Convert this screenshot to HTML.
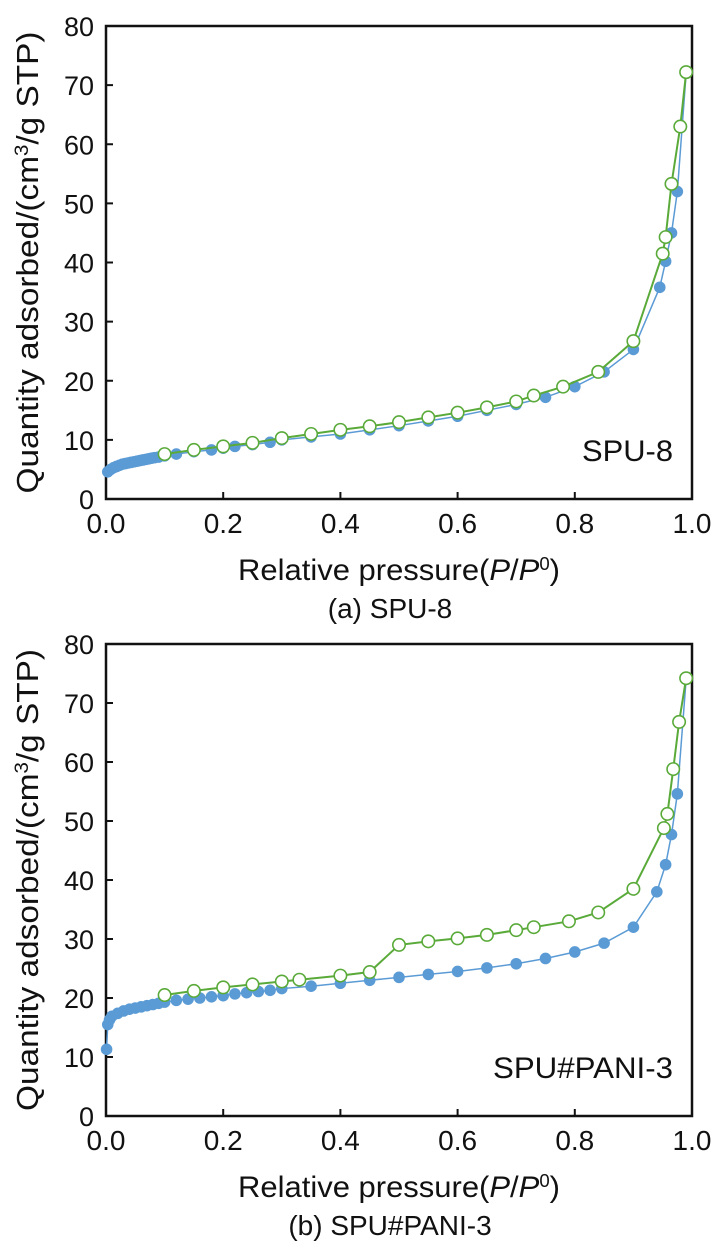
<!DOCTYPE html>
<html><head><meta charset="utf-8"><style>
html,body{margin:0;padding:0;background:#fff;}
svg{display:block;font-family:"Liberation Sans",sans-serif;}
</style></head><body>
<svg id="c" width="726" height="1250" viewBox="0 0 726 1250"></svg>
<script>
const xTicks=[0,0.2,0.4,0.6,0.8,1.0];
const xTickLabels=["0.0","0.2","0.4","0.6","0.8","1.0"];
const yTicks=[0,10,20,30,40,50,60,70,80];
const aAdsX=[0.003,0.008,0.013,0.018,0.023,0.028,0.033,0.038,0.043,0.048,0.053,0.058,0.063,0.068,0.073,0.078,0.083,0.09,0.1,0.12,0.15,0.18,0.2,0.22,0.25,0.28,0.3,0.35,0.4,0.45,0.5,0.55,0.6,0.65,0.7,0.75,0.8,0.85,0.9,0.945,0.955,0.965,0.975,0.99];
const aAdsY=[4.6,5.0,5.3,5.5,5.7,5.9,6.0,6.1,6.2,6.3,6.4,6.5,6.6,6.7,6.8,6.9,7.0,7.1,7.3,7.6,8.0,8.3,8.6,8.9,9.2,9.6,10,10.5,11,11.7,12.4,13.2,14,15,16,17.2,19,21.5,25.3,35.8,40.2,45,52,72];
const aDesX=[0.99,0.98,0.965,0.955,0.95,0.9,0.84,0.78,0.73,0.7,0.65,0.6,0.55,0.5,0.45,0.4,0.35,0.3,0.25,0.2,0.15,0.1];
const aDesY=[72.2,63,53.3,44.3,41.5,26.7,21.5,19,17.5,16.5,15.5,14.6,13.8,13,12.3,11.7,11,10.3,9.5,8.9,8.3,7.6];
const bAdsX=[0.001,0.003,0.006,0.01,0.02,0.03,0.04,0.05,0.06,0.07,0.08,0.09,0.1,0.12,0.14,0.16,0.18,0.2,0.22,0.24,0.26,0.28,0.3,0.35,0.4,0.45,0.5,0.55,0.6,0.65,0.7,0.75,0.8,0.85,0.9,0.94,0.955,0.965,0.975,0.99];
const bAdsY=[11.3,15.5,16.3,16.9,17.4,17.8,18.1,18.3,18.5,18.7,18.9,19.1,19.3,19.6,19.8,20,20.2,20.4,20.7,20.9,21.1,21.3,21.6,22,22.5,23,23.5,24,24.5,25.1,25.8,26.7,27.8,29.3,32,38,42.6,47.7,54.6,74];
const bDesX=[0.99,0.978,0.968,0.958,0.952,0.9,0.84,0.79,0.73,0.7,0.65,0.6,0.55,0.5,0.45,0.4,0.33,0.3,0.25,0.2,0.15,0.1];
const bDesY=[74.2,66.8,58.8,51.2,48.8,38.5,34.5,33,32,31.5,30.7,30.1,29.6,29,24.4,23.8,23.1,22.8,22.3,21.8,21.2,20.5];

const NS="http://www.w3.org/2000/svg";
const svg=document.getElementById('c');
function mk(tag,at,parent){const e=document.createElementNS(NS,tag);for(const k in at)e.setAttribute(k,at[k]);(parent||svg).appendChild(e);return e;}

function panel(id,top,bottom,adsX,adsY,desX,desY,label,labelLen,caption){
  const L=106,R=692;
  const g=mk('g',{});
  
  
  const sx=v=>L+(R-L)*v;
  const sy=v=>bottom-(bottom-top)*v/80;
  const fr=mk('rect',{x:L,y:top,width:R-L,height:bottom-top,fill:'none',stroke:'#111','stroke-width':2.5},g);
  
  
  xTicks.forEach((t,i)=>{
    const tl=mk('line',{x1:sx(t),x2:sx(t),y1:bottom,y2:bottom-7,stroke:'#111','stroke-width':2},g);
    
    
    const tx=mk('text',{x:sx(t),y:bottom+34,'font-size':28,'text-anchor':'middle',fill:'#111'},g);
    tx.textContent=xTickLabels[i];
    
    
  });
  yTicks.forEach(t=>{
    const tl=mk('line',{x1:L,x2:L+7,y1:sy(t),y2:sy(t),stroke:'#111','stroke-width':2},g);
    
    
    const tx=mk('text',{x:L-12,y:sy(t)+10,'font-size':27,'text-anchor':'end',fill:'#111'},g);
    tx.textContent=String(t);
    
    
  });
  const cy=(top+bottom)/2;
  const yt=mk('text',{x:0,y:0,'font-size':31,'text-anchor':'middle',fill:'#111',transform:`translate(38,${cy}) rotate(-90)`,textLength:462,lengthAdjust:'spacingAndGlyphs'},g);
  yt.innerHTML='Quantity adsorbed/(cm<tspan dy="-10" font-size="19">3</tspan><tspan dy="10">/g STP)</tspan>';
  
  
  const xt=mk('text',{x:399,y:bottom+81,'font-size':30,'text-anchor':'middle',fill:'#111',textLength:322,lengthAdjust:'spacingAndGlyphs'},g);
  xt.innerHTML='Relative pressure(<tspan font-style="italic">P</tspan>/<tspan font-style="italic">P</tspan><tspan dy="-10" font-size="18">0</tspan><tspan dy="10">)</tspan>';
  
  
  const cp=mk('text',{x:390,y:bottom+119,'font-size':28,'text-anchor':'middle',fill:'#111'},g);
  cp.textContent=caption;
  
  
  const sl=mk('text',{x:673,y:bottom-38,'font-size':30,'text-anchor':'end',fill:'#111',textLength:labelLen,lengthAdjust:'spacingAndGlyphs'},g);
  sl.textContent=label;
  
  
  const ap=mk('polyline',{points:adsX.map((x,i)=>sx(x)+','+sy(adsY[i])).join(' '),fill:'none',stroke:'#5b9bd5','stroke-width':1.5},g);
  
  
  adsX.forEach((x,i)=>{
    const c=mk('circle',{cx:sx(x),cy:sy(adsY[i]),r:5.8,fill:'#5b9bd5'},g);
    
    
  });
  const dp=mk('polyline',{points:desX.map((x,i)=>sx(x)+','+sy(desY[i])).join(' '),fill:'none',stroke:'#5aaa3a','stroke-width':2},g);
  
  
  desX.forEach((x,i)=>{
    const c=mk('circle',{cx:sx(x),cy:sy(desY[i]),r:6.2,fill:'#fff',stroke:'#5aaa3a','stroke-width':1.6},g);
    
    
  });
}
panel('spu8',26,499,aAdsX,aAdsY,aDesX,aDesY,'SPU-8',91,'(a) SPU-8');
panel('spupani3',644,1116,bAdsX,bAdsY,bDesX,bDesY,'SPU#PANI-3',180,'(b) SPU#PANI-3');
</script>
</body></html>
